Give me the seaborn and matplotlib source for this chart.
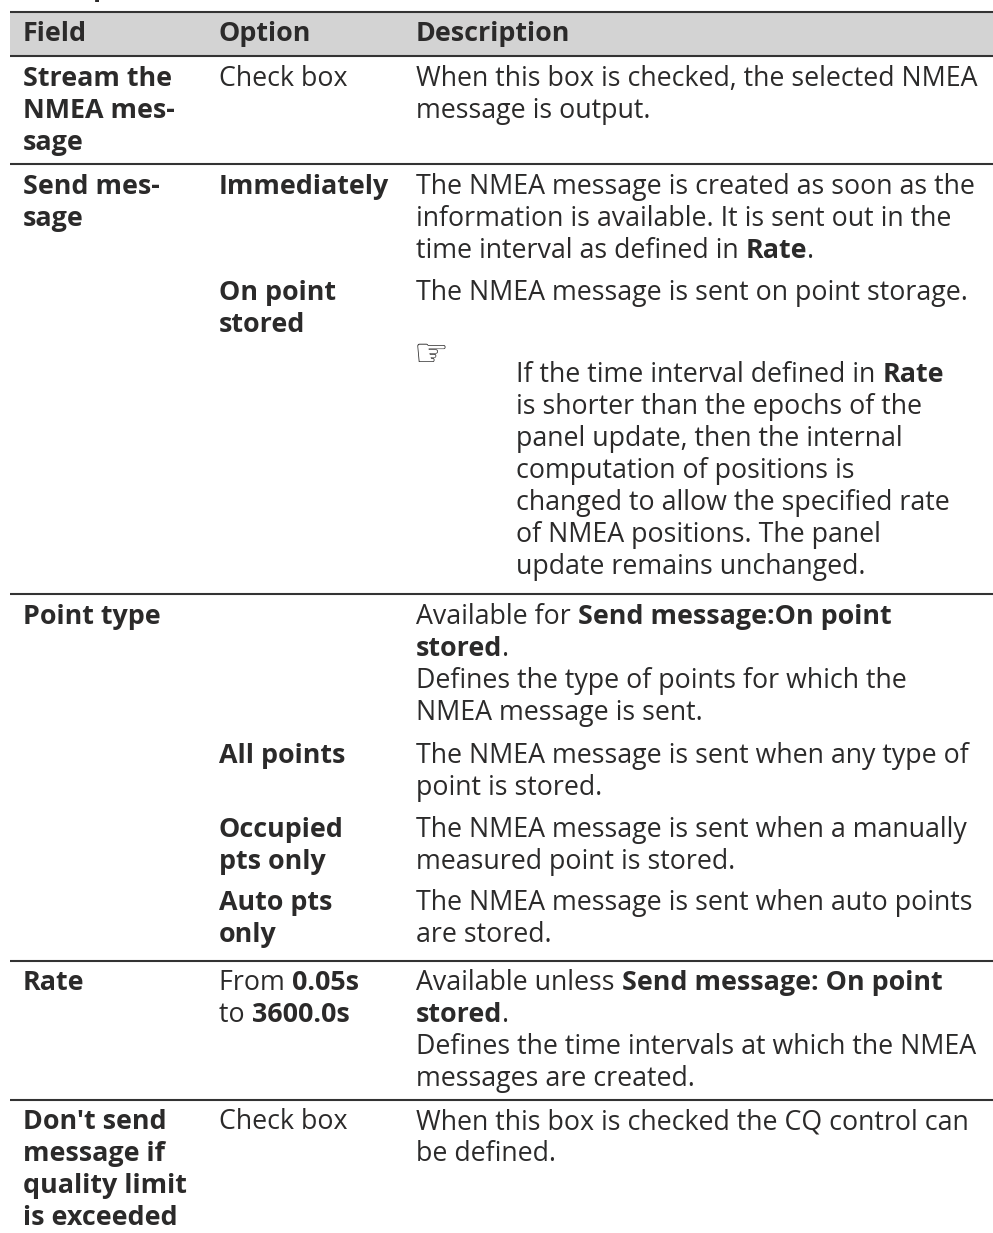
import numpy as np
import matplotlib
matplotlib.use("Agg")
import matplotlib.pyplot as plt
from matplotlib.colors import ListedColormap
import seaborn as sns

# ** marks bold runs inside a line
headers = ["Field", "Option", "Description"]

field_text = [
    ["Stream the", "NMEA mes-", "sage"],
    ["Send mes-", "sage"],
    ["Point type"],
    ["Rate"],
    ["Don't send", "message if", "quality limit", "is exceeded"],
]
option_text = [
    ["Check box"],
    ["**Immediately**"],
    ["**On point**", "**stored**"],
    ["**All points**"],
    ["**Occupied**", "**pts only**"],
    ["**Auto pts**", "**only**"],
    ["From **0.05s**", "to **3600.0s**"],
    ["Check box"],
]
desc_text = [
    ["When this box is checked, the selected NMEA", "message is output."],
    ["The NMEA message is created as soon as the", "information is available. It is sent out in the",
     "time interval as defined in **Rate**."],
    ["The NMEA message is sent on point storage."],
    ["Available for **Send message:On point**", "**stored**.", "Defines the type of points for which the",
     "NMEA message is sent."],
    ["The NMEA message is sent when any type of", "point is stored."],
    ["The NMEA message is sent when a manually", "measured point is stored."],
    ["The NMEA message is sent when auto points", "are stored."],
    ["Available unless **Send message: On point**", "**stored**.",
     "Defines the time intervals at which the NMEA", "messages are created."],
    ["When this box is checked the CQ control can", "be defined."],
]
note_text = [
    "If the time interval defined in **Rate**", "is shorter than the epochs of the",
    "panel update, then the internal", "computation of positions is",
    "changed to allow the specified rate", "of NMEA positions. The panel",
    "update remains unchanged.",
]

# layout, in pixels of the page
COL_X = [23, 219, 416]
NOTE_X = 516
LINE = 32
FIELD_Y = [86, 194, 624, 990, 1129]
OPTION_Y = [86, 194, 300, 763, 837, 910, 990, 1129]
DESC_Y = [86, 194, 300, 624, 763, 837, 910, 990, 1129]
NOTE_Y = 382
HEADER_Y = 41
RULE_THICK = [12, 55.5, 164, 594, 961, 1100]
FS = 19.3
FS_BOLD = 19.4
INK = "#2b2a2a"

sns.set_theme(style="white")
plt.rcParams["font.family"] = ["Open Sans", "DejaVu Sans"]

fig = plt.figure(figsize=(9.93, 12.33), dpi=100)
ax = fig.add_axes([0, 0, 1, 1])
ax.set_xlim(0, 993)
ax.set_ylim(1233, 0)
ax.axis("off")

# header band
hx = fig.add_axes([9.5 / 993, 1 - 55 / 1233, 983.5 / 993, 43 / 1233])
sns.heatmap(np.zeros((1, 3)), cmap=ListedColormap(["#d3d3d3"]), cbar=False,
            xticklabels=False, yticklabels=False, ax=hx)
ax.set_zorder(2)
ax.patch.set_alpha(0)

ax.hlines(RULE_THICK, 9.5, 993, color="#333333", lw=1.5)


def draw_line(x, y, line, bold=False):
    # split on ** and place each run after the previous one
    r = fig.canvas.get_renderer()
    for i, run in enumerate(line.split("**")):
        if not run:
            continue
        is_bold = bold or i % 2 == 1
        t = ax.text(x, y, run, fontsize=FS_BOLD if is_bold else FS,
                    fontweight="bold" if is_bold else "normal",
                    color=INK, va="baseline", ha="left")
        x += t.get_window_extent(r).width


def draw_cell(x, y, lines, bold=False):
    for k, line in enumerate(lines):
        draw_line(x, y + k * LINE, line, bold)


for x, h in zip(COL_X, headers):
    draw_line(x, HEADER_Y, h, bold=True)
for y, lines in zip(FIELD_Y, field_text):
    draw_cell(COL_X[0], y, lines, bold=True)
for y, lines in zip(OPTION_Y, option_text):
    draw_cell(COL_X[1], y, lines)
for y, lines in zip(DESC_Y, desc_text):
    draw_cell(COL_X[2], y, lines)
draw_cell(NOTE_X, NOTE_Y, note_text)

ax.text(414, 366, "\u261e", fontsize=28, color=INK, family="DejaVu Sans", va="baseline", ha="left")
# page heading, cut off by the top edge of the page
ax.text(9, -4, "Description of fields", fontsize=19.5, fontweight="bold", color=INK, va="baseline", ha="left")

fig.savefig("out.png", dpi=100)
